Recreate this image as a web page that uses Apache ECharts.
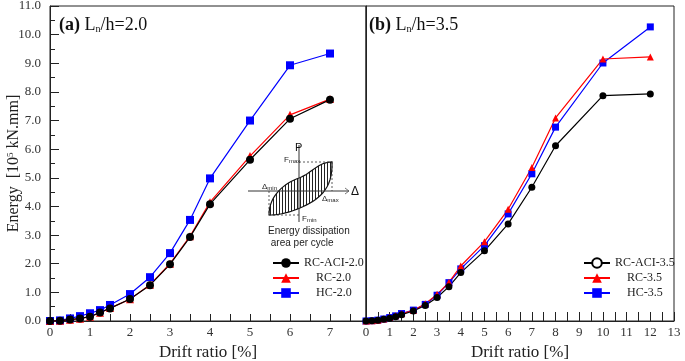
<!DOCTYPE html>
<html>
<head>
<meta charset="UTF-8">
<title>Energy dissipation</title>
<script src="https://cdn.jsdelivr.net/npm/echarts@6/dist/echarts.min.js"></script>
<style>body{margin:0;background:#fff;}</style>
</head>
<body>
<div id="main" style="width:685px;height:361px;"></div>
<script type="text/javascript">
// drift ratio steps
var driftA = [0, 0.25, 0.5, 0.75, 1, 1.25, 1.5, 2, 2.5, 3, 3.5, 4, 5, 6, 7];
var driftB = [0, 0.25, 0.5, 0.75, 1, 1.25, 1.5, 2, 2.5, 3, 3.5, 4, 5, 6, 7, 8, 10, 12];

// energy [10^5 kN.mm]
var rcAci20 = [0, 0.01, 0.05, 0.09, 0.15, 0.3, 0.44, 0.77, 1.25, 1.98, 2.93, 4.08, 5.63, 7.06, 7.73];
var rc20    = [0, 0.01, 0.04, 0.08, 0.15, 0.29, 0.45, 0.76, 1.27, 2.0, 2.96, 4.15, 5.76, 7.2, 7.75];
var hc20    = [0, 0.02, 0.09, 0.17, 0.27, 0.38, 0.56, 0.94, 1.53, 2.37, 3.53, 4.98, 7.0, 8.93, 9.34];

var rcAci35 = [0, 0.01, 0.03, 0.06, 0.1, 0.15, 0.22, 0.35, 0.54, 0.82, 1.2, 1.69, 2.45, 3.39, 4.67, 6.12, 7.87, 7.93];
var rc35    = [0, 0.01, 0.03, 0.07, 0.12, 0.18, 0.25, 0.37, 0.6, 0.93, 1.35, 1.92, 2.77, 3.9, 5.36, 7.09, 9.15, 9.22];
var hc35    = [0, 0.01, 0.03, 0.07, 0.12, 0.18, 0.26, 0.38, 0.58, 0.9, 1.34, 1.82, 2.63, 3.74, 5.14, 6.77, 9.01, 10.27];

var yTicks = [0, 1, 2, 3, 4, 5, 6, 7, 8, 9, 10, 11];

function pairs(xs, ys) {
    return xs.map(function (x, i) { return [x, ys[i]]; });
}

var serif = 'Liberation Serif';
var myChart = echarts.init(document.getElementById('main'));

// hatch pattern for the inset loop
var cnv = document.createElement('canvas');
cnv.width = 3; cnv.height = 3;
var cx = cnv.getContext('2d');
cx.fillStyle = '#222';
cx.fillRect(0, 0, 1, 3);

// sample a cubic bezier (inset sketch only)
function bez(p0, p1, p2, p3, n) {
    var out = [];
    for (var i = 0; i <= n; i++) {
        var t = i / n, u = 1 - t;
        out.push([
            u*u*u*p0[0] + 3*u*u*t*p1[0] + 3*u*t*t*p2[0] + t*t*t*p3[0],
            u*u*u*p0[1] + 3*u*u*t*p1[1] + 3*u*t*t*p2[1] + t*t*t*p3[1]
        ]);
    }
    return out;
}
var loopPts = [].concat(
    bez([269, 215], [269, 195], [285, 183], [299, 178], 16),
    bez([299, 178], [312, 173], [318, 162], [332, 162], 16),
    bez([332, 162], [333, 190], [318, 200], [300, 208], 16),
    bez([300, 208], [288, 213], [278, 215], [269, 215], 16)
);

function lineSeries(name, data, color, symbol, size, xi) {
    return {
        name: name, type: 'line', xAxisIndex: xi, yAxisIndex: xi,
        data: data, symbol: symbol, symbolSize: size,
        itemStyle: { color: color },
        lineStyle: { color: color, width: 1.2 },
        z: 3
    };
}

function xAxisCfg(idx, max, tickLen) {
    return {
        type: 'value', gridIndex: idx, min: 0, max: max, interval: 0.5,
        name: 'Drift ratio [%]', nameLocation: 'middle', nameGap: 22,
        nameTextStyle: { fontFamily: serif, fontSize: 17, color: '#222' },
        axisLine: { lineStyle: { color: '#222' } },
        axisTick: { inside: true, length: tickLen, lineStyle: { color: '#222' } },
        splitLine: { show: false },
        axisLabel: {
            margin: 5, fontFamily: serif, fontSize: 13, color: '#333',
            formatter: function (v) { return Math.abs(v - Math.round(v)) < 1e-6 ? String(Math.round(v)) : ''; }
        }
    };
}

function subText(x, y, main, sub) {
    return { type: 'text', x: x, y: y, style: { text: main + '{s|' + sub + '}', font: '8px Liberation Sans', fill: '#222',
        rich: { s: { fontSize: 6, padding: [3, 0, 0, 0], fill: '#222' } } } };
}

var titleRich = {
    b: { fontFamily: serif, fontSize: 18, fontWeight: 'bold', fill: '#111' },
    s: { fontFamily: serif, fontSize: 10, padding: [8, 0, 0, 0], fill: '#111' }
};

function legendCfg(left, names) {
    return {
        orient: 'vertical', left: left, top: 257, padding: 0,
        itemWidth: 26, itemHeight: 12, itemGap: 3,
        data: names,
        textStyle: { fontFamily: serif, fontSize: 12, color: '#222' },
        formatter: function (n) { return n === names[0] ? n : '    ' + n; }
    };
}

var option = {
    animation: false,
    grid: [
        { left: 50, top: 6, width: 316, height: 315, outerBoundsMode: 'none', show: true, borderColor: '#222', borderWidth: 1 },
        { left: 366, top: 6, width: 308, height: 315, outerBoundsMode: 'none', show: true, borderColor: '#222', borderWidth: 1 }
    ],
    xAxis: [xAxisCfg(0, 7.9, 7), xAxisCfg(1, 13, 9)],
    yAxis: [
        {
            type: 'value', gridIndex: 0, min: 0, max: 11, interval: 1,
            name: 'Energy  [10{sup|5} kN.mm]', nameLocation: 'middle', nameGap: 28, nameMoveOverlap: false,
            nameTextStyle: {
                fontFamily: serif, fontSize: 16, color: '#222',
                rich: { sup: { fontFamily: serif, fontSize: 9, verticalAlign: 'top', color: '#222' } }
            },
            axisLine: { lineStyle: { color: '#222' } },
            axisTick: { inside: true, length: 9, lineStyle: { color: '#222' } },
            minorTick: { show: true, splitNumber: 2, length: 5, lineStyle: { color: '#222' } },
            splitLine: { show: false },
            axisLabel: {
                margin: 9, fontFamily: serif, fontSize: 13, color: '#333',
                formatter: function (v) { return yTicks.indexOf(v) >= 0 ? v.toFixed(1) : ''; }
            }
        },
        {
            type: 'value', gridIndex: 1, min: 0, max: 11, interval: 1,
            axisLine: { lineStyle: { color: '#222' } },
            axisTick: { show: false },
            axisLabel: { show: false },
            splitLine: { show: false }
        }
    ],
    legend: [
        legendCfg(272, ['RC-ACI-2.0', 'RC-2.0', 'HC-2.0']),
        legendCfg(583, ['RC-ACI-3.5', 'RC-3.5', 'HC-3.5'])
    ],
    series: [
        lineSeries('HC-2.0', pairs(driftA, hc20), '#0000ff', 'rect', 8, 0),
        lineSeries('RC-2.0', pairs(driftA, rc20), '#ff0000', 'triangle', 8, 0),
        lineSeries('RC-ACI-2.0', pairs(driftA, rcAci20), '#000000', 'circle', 8, 0),
        lineSeries('HC-3.5', pairs(driftB, hc35), '#0000ff', 'rect', 7, 1),
        lineSeries('RC-3.5', pairs(driftB, rc35), '#ff0000', 'triangle', 7, 1),
        lineSeries('RC-ACI-3.5 data', pairs(driftB, rcAci35), '#000000', 'circle', 7, 1),
        // legend entry only: hollow marker as in the original key
        {
            name: 'RC-ACI-3.5', type: 'line', xAxisIndex: 1, yAxisIndex: 1, data: [],
            symbol: 'emptyCircle', symbolSize: 9,
            itemStyle: { color: '#000', borderColor: '#000' }, lineStyle: { color: '#000', width: 1.2 }
        }
    ],
    graphic: [
        { type: 'text', x: 59, y: 16, style: { text: '{b|(a)} L{s|n}/h=2.0', font: '18px ' + serif, fill: '#111', rich: titleRich } },
        { type: 'text', x: 369, y: 16, style: { text: '{b|(b)} L{s|n}/h=3.5', font: '18px ' + serif, fill: '#111', rich: titleRich } },
        // inset: hysteresis loop sketch
        { type: 'polygon', silent: true, shape: { points: loopPts },
          style: { fill: { image: cnv, repeat: 'repeat' }, stroke: '#111', lineWidth: 1.2 } },
        { type: 'line', silent: true, shape: { x1: 248, y1: 191, x2: 349, y2: 191 }, style: { stroke: '#333', lineWidth: 1 } },
        { type: 'polyline', silent: true, shape: { points: [[345, 188], [349, 191], [345, 194]] }, style: { stroke: '#555', fill: null, lineWidth: 0.8 } },
        { type: 'line', silent: true, shape: { x1: 299, y1: 145, x2: 299, y2: 222 }, style: { stroke: '#333', lineWidth: 1 } },
        { type: 'line', silent: true, shape: { x1: 299, y1: 162, x2: 332, y2: 162 }, style: { stroke: '#333', lineDash: [2, 2], lineWidth: 0.8 } },
        { type: 'line', silent: true, shape: { x1: 332, y1: 162, x2: 332, y2: 191 }, style: { stroke: '#333', lineDash: [2, 2], lineWidth: 0.8 } },
        { type: 'line', silent: true, shape: { x1: 269, y1: 215, x2: 299, y2: 215 }, style: { stroke: '#333', lineDash: [2, 2], lineWidth: 0.8 } },
        { type: 'line', silent: true, shape: { x1: 269, y1: 191, x2: 269, y2: 215 }, style: { stroke: '#333', lineDash: [2, 2], lineWidth: 0.8 } },
        { type: 'text', x: 295, y: 142, style: { text: 'P', font: '11px Liberation Sans', fill: '#111' } },
        { type: 'text', x: 351, y: 186, style: { text: 'Δ', font: '12px Liberation Sans', fill: '#111' } },
        subText(284, 155, 'F', 'max'),
        subText(302, 214, 'F', 'min'),
        subText(262, 182, 'Δ', 'min'),
        subText(322, 194, 'Δ', 'max'),
        { type: 'text', x: 268, y: 225, style: { text: 'Energy dissipation\n area per cycle', font: '10px Liberation Sans', lineHeight: 12, fill: '#222' } }
    ]
};

myChart.setOption(option);
</script>
</body>
</html>
